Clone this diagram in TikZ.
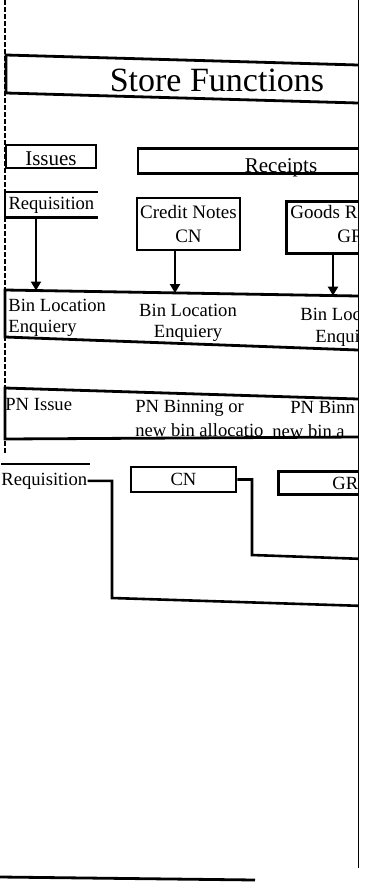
\documentclass[tikz,border=0pt]{standalone}
\usepackage{fontspec}
\setmainfont{Liberation Serif}
\usetikzlibrary{positioning,arrows.meta}

\begin{document}
\begin{tikzpicture}[x=0.5pt,y=-0.5pt,
    every node/.style={font=\fontsize{9.3}{10.5}\selectfont,inner sep=0pt},
    frame/.style={line width=1.4pt},
    box/.style={draw,line width=1.4pt,inner sep=0pt},
    head/.style={font=\fontsize{10.5}{12}\selectfont},
    wire/.style={line width=1.3pt},
    feed/.style={wire,-{Triangle[width=5pt,length=4.5pt]}}]
  \useasboundingbox (0,0) rectangle (365,894);
  \begin{scope}
    \clip (-5,-5) rectangle (358.5,900);
    % page margin
    \draw[line width=1.2pt,dash pattern=on 2.5pt off 1pt] (5,0) -- (5,455);

    % title band
    \node[font=\fontsize{17}{20}\selectfont] (title) at (217,80) {Store Functions};
    \draw[frame] (358,65) -- (6,55) -- (6,93) -- (358,103);

    \node[box,head,minimum width=45pt,text height=10pt,text depth=1.5pt] (issues) at (51,156.5) {Issues};
    \node[box,head,minimum width=143pt,text height=12pt,text depth=0.5pt] (receipts) at (281,161) {Receipts};

    % documents
    \node[minimum width=46pt,minimum height=12.5pt,anchor=north west] (req) at (5,192) {Requisition};
    \draw[frame] (req.north east) -- (req.north west) -- (req.south west) -- (req.south east);
    \node[box,align=center,font=\fontsize{9.5}{12}\selectfont,minimum width=51.5pt,minimum height=26pt] (cn) at (188.5,224) {Credit Notes\\CN};
    \node[box,minimum width=60pt,minimum height=26pt,anchor=north west] (grn) at (285,200) {};
    \node[anchor=base west,font=\fontsize{9.5}{12}\selectfont] (grn1) at (290,218) {Goods R};
    \node[anchor=base west,font=\fontsize{9.5}{12}\selectfont] (grn2) at (337,242) {GR};

    % bin location band
    \draw[frame] (358,296) -- (5,290) -- (5,337) -- (358,350);
    \coordinate (b1) at (36,290.5);
    \coordinate (b2) at (175,293);
    \coordinate (b3) at (333,295.6);
    \draw[feed] (req.south -| b1) -- (b1);
    \draw[feed] (cn.south -| b2) -- (b2);
    \draw[feed] (grn.south -| b3) -- (b3);
    \node[align=left,anchor=north west] (bin1) at (8,299) {Bin Location\\Enquiery};
    \node[align=center,anchor=north] (bin2) at (188,304) {Bin Location\\Enquiery};
    \node[anchor=base west] (bin3a) at (300,320) {Bin Loc};
    \node[anchor=base west] (bin3b) at (315,342) {Enqui};

    % part number band
    \draw[frame] (358,399) -- (5,388) -- (5,439) -- (358,437);
    \node[anchor=base west] (pn1) at (5,410) {PN Issue};
    \node[align=left,anchor=north west,font=\fontsize{9.3}{12}\selectfont] (pn2) at (135,400) {PN Binning or\\new bin allocatio};
    \node[anchor=base west] (pn3a) at (290,413) {PN Binn};
    \node[anchor=base west] (pn3b) at (272,437) {new bin a};

    % lower documents
    \node[anchor=base west] (req2) at (1,485) {Requisition};
    \draw[frame] (1,464) -- (90,464);
    \node[box,minimum width=52.5pt,minimum height=12.5pt] (cn2) at (183.5,479.5) {CN};
    \node[box,minimum width=60pt,minimum height=11.5pt,anchor=north west] (gr2) at (277,470) {};
    \node[anchor=base west] (gr2t) at (332,489) {GR};
    \coordinate (rq) at (365,606);
    \coordinate (cc) at (365,559);
    \draw[wire] (req2.east) -| (112,598) -- (rq);
    \draw[wire] (cn2.east) -| (252,555) -- (cc);

    \draw[frame] (0,877) -- (255,880);
  \end{scope}
  \draw[line width=0.5pt] (358,0) -- (358,868);
\end{tikzpicture}
\end{document}
